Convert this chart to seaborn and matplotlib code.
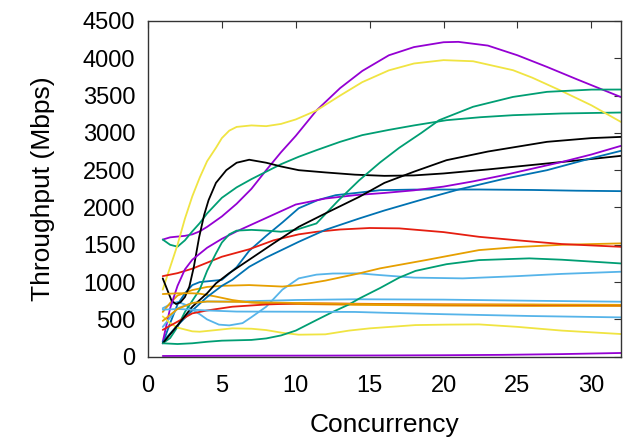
import pandas as pd
import matplotlib
matplotlib.use("Agg")
import matplotlib.pyplot as plt
import seaborn as sns

# colores tipo gnuplot
PURPLE = "#9400d3"
GREEN = "#009e73"
LBLUE = "#56b4e9"
ORANGE = "#e69f00"
YELLOW = "#f0e442"
BLUE = "#0072b2"
RED = "#e51e10"
BLACK = "#000000"

# curvas (concurrency, Mbps)
purple_big_x = [1, 1.5, 2, 2.5, 3, 3.5, 4, 5, 6, 7, 8, 9, 10, 11.4, 13, 14.5, 16.3, 18, 20, 21, 23, 25, 27, 29, 32]
purple_big_y = [1570, 1600, 1610, 1620, 1640, 1680, 1740, 1880, 2050, 2250, 2500, 2740, 2960, 3300, 3600, 3830, 4040, 4150, 4215, 4220, 4170, 4040, 3884, 3720, 3480]

purple_mid_x = [1, 1.5, 2, 2.5, 3, 4, 5, 6, 7, 8, 10, 12, 14, 16, 18, 20, 22, 24, 26, 28, 30, 32]
purple_mid_y = [200, 650, 950, 1170, 1300, 1460, 1580, 1680, 1770, 1860, 2040, 2120, 2165, 2195, 2230, 2280, 2350, 2430, 2520, 2610, 2710, 2826]

purple_low_x = [1, 4, 8, 12, 16, 20, 24, 28, 32]
purple_low_y = [10, 12, 14, 15, 17, 20, 25, 35, 50]

yellow_big_x = [1, 1.5, 2, 2.5, 3, 3.5, 4, 4.6, 5, 5.5, 6, 7, 8, 9, 10, 11.4, 13, 14.5, 16.3, 18, 20, 22, 24.7, 26, 28, 30, 32]
yellow_big_y = [900, 1200, 1500, 1850, 2150, 2400, 2620, 2800, 2930, 3030, 3080, 3100, 3090, 3120, 3180, 3300, 3500, 3680, 3838, 3930, 3975, 3960, 3840, 3740, 3560, 3370, 3147]

yellow_low_x = [1, 1.5, 2, 3, 3.5, 4.5, 5.7, 7, 8, 9.1, 10.2, 12, 13.6, 15, 18.1, 20.2, 22.4, 25, 28, 32]
yellow_low_y = [540, 450, 390, 340, 335, 355, 380, 375, 357, 320, 295, 300, 350, 380, 424, 430, 433, 400, 350, 304]

black_a_x = [1, 1.3, 1.6, 1.9, 2.2, 2.5, 2.8, 3.1, 3.46, 3.8, 4.1, 4.6, 5.3, 6, 6.85, 8, 9, 10.2, 12, 14, 16, 18, 20, 23, 27, 30, 32]
black_a_y = [1050, 900, 750, 706, 730, 800, 940, 1200, 1600, 1900, 2098, 2330, 2500, 2600, 2640, 2600, 2550, 2500, 2470, 2440, 2424, 2430, 2456, 2510, 2590, 2650, 2692]

black_b_x = [1, 2, 3, 4, 4.6, 5.5, 6.85, 8.5, 10.2, 12, 14.3, 16, 18, 20.2, 23, 27, 30, 32]
black_b_y = [180, 420, 670, 850, 983, 1120, 1300, 1520, 1741, 1920, 2143, 2330, 2480, 2634, 2750, 2880, 2930, 2946]

green_a_x = [1, 1.5, 2, 2.5, 3, 3.5, 4, 5, 6, 7, 8, 9, 10.2, 11.4, 13, 14.5, 16.3, 18, 20.2, 22.5, 24.7, 28, 32]
green_a_y = [1570, 1500, 1475, 1560, 1680, 1790, 1920, 2130, 2270, 2380, 2480, 2580, 2680, 2768, 2880, 2970, 3040, 3100, 3170, 3210, 3237, 3260, 3273]

green_b_x = [1, 1.5, 2, 2.5, 3, 3.5, 4, 4.6, 5, 5.5, 6, 7, 8, 9, 10, 11.4, 12.9, 14.3, 15.7, 17, 18.5, 19.7, 22, 24.7, 27, 30, 32]
green_b_y = [180, 250, 400, 600, 750, 900, 1150, 1385, 1530, 1640, 1690, 1700, 1690, 1675, 1700, 1786, 2098, 2366, 2603, 2800, 3000, 3170, 3350, 3482, 3550, 3580, 3581]

green_c_x = [1, 2, 3, 4, 5, 6, 7, 8, 9, 10, 11.4, 12.5, 13.6, 14.3, 15.7, 17, 18.1, 20.2, 22.4, 25.8, 28, 30, 32]
green_c_y = [180, 170, 180, 200, 215, 220, 225, 245, 285, 350, 491, 600, 700, 780, 920, 1060, 1150, 1240, 1295, 1318, 1300, 1275, 1250]

blue_a_x = [1, 1.5, 2, 2.5, 3, 3.5, 4, 5, 6, 6.85, 8, 9.1, 10.2, 11.5, 12.7, 14.3, 15.7, 18, 22.4, 26, 29, 32]
blue_a_y = [180, 450, 700, 850, 960, 1000, 1010, 1030, 1200, 1420, 1620, 1800, 1990, 2100, 2165, 2200, 2232, 2240, 2241, 2235, 2225, 2219]

blue_b_x = [1, 2, 3, 4, 5, 5.7, 6.85, 8, 10.2, 12, 14.3, 16, 18.4, 21, 24, 27, 30, 32]
blue_b_y = [200, 420, 620, 800, 950, 1030, 1205, 1330, 1540, 1700, 1853, 1960, 2098, 2240, 2380, 2500, 2660, 2759]

red_a_x = [1, 2, 3, 4, 5, 6.85, 8.5, 10.2, 11.4, 13, 15, 17, 20, 22.4, 25, 28, 32]
red_a_y = [1080, 1120, 1180, 1260, 1340, 1440, 1560, 1640, 1674, 1705, 1725, 1720, 1670, 1607, 1560, 1510, 1473]

red_b_x = [1, 2, 3, 4, 5.7, 8, 10.2, 14, 20, 26, 32]
red_b_y = [360, 470, 581, 620, 670, 700, 715, 710, 700, 695, 690]

orange_a_x = [1, 1.5, 2, 3, 4, 5, 6.85, 8, 9.1, 10.2, 12, 14.3, 15.7, 18.8, 20, 22.4, 25, 28, 32]
orange_a_y = [600, 720, 820, 893, 935, 950, 960, 950, 940, 960, 1020, 1117, 1184, 1295, 1340, 1429, 1470, 1500, 1519]

orange_b_x = [1, 2, 3, 3.5, 4.5, 5.7, 7, 8, 10.2, 14, 20, 26, 32]
orange_b_y = [840, 850, 850, 845, 810, 760, 725, 715, 706, 695, 685, 680, 680]

orange_c_x = [1, 2, 3, 4, 6, 10, 15, 20, 26, 32]
orange_c_y = [480, 640, 720, 740, 735, 720, 705, 700, 700, 695]

lblue_a_x = [1, 1.5, 2, 2.5, 3, 3.5, 4, 4.8, 5.5, 6.4, 7, 8, 9.1, 10.2, 11.4, 12.5, 14.3, 15.7, 18, 21.3, 25, 28, 32]
lblue_a_y = [650, 700, 735, 700, 630, 570, 500, 430, 420, 450, 530, 670, 900, 1050, 1100, 1115, 1117, 1094, 1060, 1050, 1080, 1110, 1139]

lblue_b_x = [1, 2, 3, 4, 6, 10, 14, 20, 26, 32]
lblue_b_y = [400, 650, 720, 740, 740, 760, 770, 765, 750, 737]

lblue_c_x = [1, 2, 3, 4, 6, 10, 14, 16, 20, 26, 32]
lblue_c_y = [630, 640, 630, 620, 605, 603, 600, 589, 570, 545, 527]

series = [
    ("purple_big", PURPLE, purple_big_x, purple_big_y),
    ("green_a", GREEN, green_a_x, green_a_y),
    ("lblue_a", LBLUE, lblue_a_x, lblue_a_y),
    ("orange_a", ORANGE, orange_a_x, orange_a_y),
    ("yellow_big", YELLOW, yellow_big_x, yellow_big_y),
    ("blue_a", BLUE, blue_a_x, blue_a_y),
    ("red_a", RED, red_a_x, red_a_y),
    ("black_a", BLACK, black_a_x, black_a_y),
    ("purple_mid", PURPLE, purple_mid_x, purple_mid_y),
    ("green_b", GREEN, green_b_x, green_b_y),
    ("lblue_b", LBLUE, lblue_b_x, lblue_b_y),
    ("orange_b", ORANGE, orange_b_x, orange_b_y),
    ("yellow_low", YELLOW, yellow_low_x, yellow_low_y),
    ("blue_b", BLUE, blue_b_x, blue_b_y),
    ("red_b", RED, red_b_x, red_b_y),
    ("black_b", BLACK, black_b_x, black_b_y),
    ("purple_low", PURPLE, purple_low_x, purple_low_y),
    ("green_c", GREEN, green_c_x, green_c_y),
    ("lblue_c", LBLUE, lblue_c_x, lblue_c_y),
    ("orange_c", ORANGE, orange_c_x, orange_c_y),
]

rows = []
for name, color, xs, ys in series:
    for xv, yv in zip(xs, ys):
        rows.append({"serie": name, "Concurrency": xv, "Throughput": yv})
df = pd.DataFrame(rows)
palette = {name: color for name, color, _, _ in series}

sns.set_style("white")
plt.rcParams["font.family"] = ["Liberation Sans", "DejaVu Sans"]
plt.rcParams["text.color"] = "black"
plt.rcParams["axes.labelcolor"] = "black"
plt.rcParams["xtick.color"] = "black"
plt.rcParams["ytick.color"] = "black"

fig = plt.figure(figsize=(6.31, 4.46), dpi=100)
ax = fig.add_axes([0.2345, 0.2002, 0.7495, 0.7528])

sns.lineplot(data=df, x="Concurrency", y="Throughput", hue="serie",
             palette=palette, estimator=None, sort=False, legend=False,
             linewidth=1.3, ax=ax)

ax.set_xlim(0, 32)
ax.set_ylim(0, 4500)
ax.set_xticks(range(0, 31, 5))
ax.set_yticks(range(0, 4501, 500))
ax.tick_params(direction="in", length=5, width=0.8, color="#333333",
               labelcolor="black", top=True, right=True, labelsize=17)
ax.tick_params(axis="x", pad=13)
ax.tick_params(axis="y", pad=9)
for s in ax.spines.values():
    s.set_color("#333333")
    s.set_linewidth(1.0)
ax.set_xlabel("Concurrency", fontsize=19, labelpad=12, color="black")
ax.set_ylabel("Throughput (Mbps)", fontsize=19, labelpad=20, color="black")

fig.savefig("out.png", dpi=100)
